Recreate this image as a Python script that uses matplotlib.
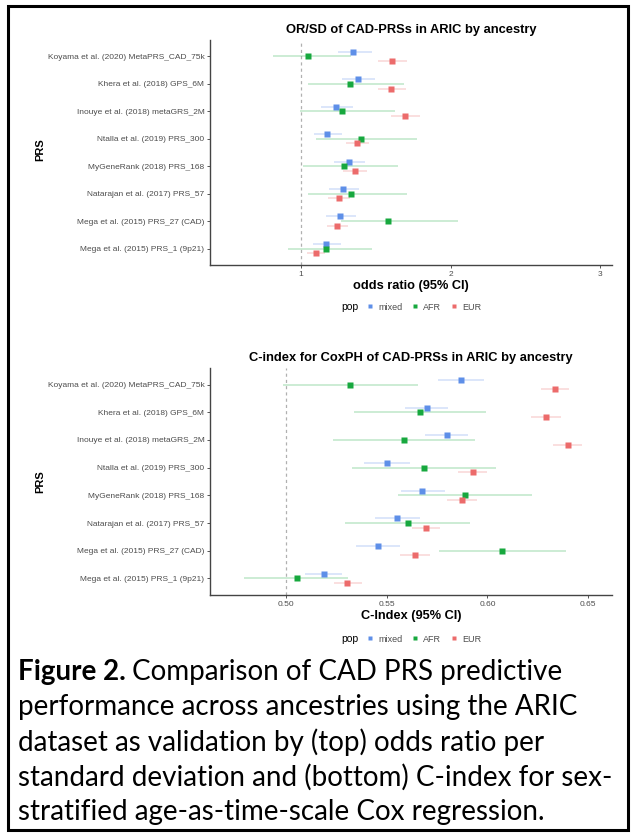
import matplotlib
matplotlib.use("Agg")
import matplotlib.pyplot as plt
from matplotlib.lines import Line2D
from matplotlib.patches import Rectangle

# ---------------- data ----------------
prs_labels = [
    "Koyama et al. (2020) MetaPRS_CAD_75k",
    "Khera et al. (2018) GPS_6M",
    "Inouye et al. (2018) metaGRS_2M",
    "Ntalla et al. (2019) PRS_300",
    "MyGeneRank (2018) PRS_168",
    "Natarajan et al. (2017) PRS_57",
    "Mega et al. (2015) PRS_27 (CAD)",
    "Mega et al. (2015) PRS_1 (9p21)",
]
pops = ["mixed", "AFR", "EUR"]

# odds ratio per SD (point, lower, upper), ordered as prs_labels
or_mixed = [1.349, 1.381, 1.236, 1.176, 1.320, 1.282, 1.261, 1.169]
or_mixed_lo = [1.248, 1.275, 1.135, 1.083, 1.218, 1.185, 1.167, 1.079]
or_mixed_hi = [1.471, 1.495, 1.347, 1.270, 1.428, 1.387, 1.369, 1.266]
or_afr = [1.045, 1.327, 1.270, 1.401, 1.286, 1.333, 1.583, 1.169]
or_afr_lo = [0.813, 1.045, 0.993, 1.101, 1.009, 1.045, 1.264, 0.914]
or_afr_hi = [1.331, 1.691, 1.631, 1.775, 1.651, 1.709, 2.050, 1.471]
or_eur = [1.610, 1.601, 1.694, 1.376, 1.358, 1.252, 1.239, 1.097]
or_eur_lo = [1.516, 1.511, 1.601, 1.297, 1.282, 1.180, 1.171, 1.038]
or_eur_hi = [1.709, 1.703, 1.797, 1.455, 1.439, 1.324, 1.315, 1.158]

# C-index (point, lower, upper)
ci_mixed = [0.5871, 0.5699, 0.5797, 0.5500, 0.5676, 0.5552, 0.5458, 0.5185]
ci_mixed_lo = [0.5753, 0.5590, 0.5691, 0.5386, 0.5569, 0.5440, 0.5348, 0.5094]
ci_mixed_hi = [0.5985, 0.5806, 0.5904, 0.5614, 0.5789, 0.5663, 0.5565, 0.5279]
ci_afr = [0.5317, 0.5667, 0.5587, 0.5683, 0.5891, 0.5603, 0.6074, 0.5054]
ci_afr_lo = [0.4982, 0.5337, 0.5230, 0.5325, 0.5557, 0.5291, 0.5758, 0.4789]
ci_afr_hi = [0.5655, 0.5995, 0.5940, 0.6042, 0.6224, 0.5912, 0.6391, 0.5309]
ci_eur = [0.6337, 0.6292, 0.6399, 0.5928, 0.5873, 0.5694, 0.5641, 0.5304]
ci_eur_lo = [0.6265, 0.6219, 0.6328, 0.5853, 0.5799, 0.5626, 0.5565, 0.5239]
ci_eur_hi = [0.6407, 0.6366, 0.6472, 0.5998, 0.5948, 0.5766, 0.5716, 0.5374]

or_ticks = [1, 2, 3]
ci_ticks = [0.50, 0.55, 0.60, 0.65]
ci_ticklabels = ["0.50", "0.55", "0.60", "0.65"]

# ---------------- style ----------------
colors = {"mixed": "#5E8FE8", "AFR": "#17A83E", "EUR": "#EC6B6B"}
offsets = {"mixed": 0.17, "AFR": 0.0, "EUR": -0.17}
TXT = "#4D4D4D"
FONT = "Liberation Sans"

W, H = 635, 836
fig = plt.figure(figsize=(W / 100, H / 100), dpi=100)
fig.patch.set_facecolor("white")


def px_axes(left, top, right, bottom):
    return fig.add_axes([left / W, 1 - bottom / H, (right - left) / W, (bottom - top) / H])


def draw_panel(ax, data, xlim, ref, ticks, ticklabels, title, xlabel):
    n = len(prs_labels)
    ypos = [n - 1 - i for i in range(n)]
    ax.axvline(ref, color="#B0B0B0", lw=0.9, ls=(0, (2.5, 2.5)), zorder=1)
    for p in pops:
        pt, lo, hi = data[p]
        ys = [y + offsets[p] for y in ypos]
        ax.hlines(ys, lo, hi, color=colors[p], lw=1.1, alpha=0.28, zorder=2)
        ax.plot(pt, ys, ls="none", marker="s", ms=4.6, color=colors[p], mec="none", zorder=3)
    ax.set_xlim(*xlim)
    ax.set_ylim(-0.6, n - 0.4)
    ax.set_yticks(ypos)
    ax.set_yticklabels(prs_labels, fontsize=6, color=TXT, family=FONT)
    ax.set_xticks(ticks)
    ax.set_xticklabels(ticklabels, fontsize=6, color=TXT, family=FONT)
    ax.tick_params(axis="both", length=2.5, width=0.7, color="#555555", pad=1.5)
    for s in ["top", "right"]:
        ax.spines[s].set_visible(False)
    for s in ["left", "bottom"]:
        ax.spines[s].set_color("#444444")
        ax.spines[s].set_linewidth(1.0)
    ax.set_title(title, fontsize=9.3, fontweight="bold", family=FONT, pad=5)
    ax.set_xlabel(xlabel, fontsize=9.2, fontweight="bold", family=FONT, labelpad=2)


ax1 = px_axes(210, 40, 612, 265)
draw_panel(
    ax1,
    {"mixed": (or_mixed, or_mixed_lo, or_mixed_hi),
     "AFR": (or_afr, or_afr_lo, or_afr_hi),
     "EUR": (or_eur, or_eur_lo, or_eur_hi)},
    (0.39, 3.08), 1, or_ticks, [str(t) for t in or_ticks],
    "OR/SD of CAD-PRSs in ARIC by ancestry", "odds ratio (95% CI)")

ax2 = px_axes(210, 368, 612, 595)
draw_panel(
    ax2,
    {"mixed": (ci_mixed, ci_mixed_lo, ci_mixed_hi),
     "AFR": (ci_afr, ci_afr_lo, ci_afr_hi),
     "EUR": (ci_eur, ci_eur_lo, ci_eur_hi)},
    (0.462, 0.662), 0.5, ci_ticks, ci_ticklabels,
    "C-index for CoxPH of CAD-PRSs in ARIC by ancestry", "C-Index (95% CI)")

# y axis titles
for yc in (150, 482):
    fig.text(40 / W, 1 - yc / H, "PRS", fontsize=8, fontweight="bold", family=FONT,
             rotation=90, ha="center", va="center")

# legends
handles = [Line2D([], [], ls="none", marker="s", ms=3.3, color=colors[p], mec="none") for p in pops]
for ly in (307, 639):
    leg = fig.legend(handles, pops, loc="center", bbox_to_anchor=(424 / W, 1 - ly / H),
                     ncol=3, frameon=False, handlelength=0.8, handletextpad=0.5,
                     columnspacing=1.0, prop={"family": FONT, "size": 6.5})
    for t in leg.get_texts():
        t.set_color(TXT)
    fig.text(350 / W, 1 - ly / H, "pop", fontsize=7.5, family=FONT, ha="center", va="center")

# outer border
fig.patches.append(Rectangle((8 / W, 6 / H), (628 - 8) / W, (830 - 6) / H,
                             transform=fig.transFigure, fill=False, ec="black", lw=2.2))

# caption
cap_font = "Lato"
cap_size = 20.0
x0 = 18 / W
lines = [
    "performance across ancestries using the ARIC",
    "dataset as validation by (top) odds ratio per",
    "standard deviation and (bottom) C-index for sex-",
    "stratified age-as-time-scale Cox regression.",
]
y_first = 672
spacing = 35
t_bold = fig.text(x0, 1 - y_first / H, "Figure 2.", fontsize=cap_size, fontweight="bold",
                  family=cap_font, va="center", ha="left")
fig.canvas.draw()
bb = t_bold.get_window_extent(renderer=fig.canvas.get_renderer())
fig.text(bb.x1 / W + 6 / W, 1 - y_first / H, "Comparison of CAD PRS predictive",
         fontsize=cap_size, family=cap_font, va="center", ha="left")
for i, ln in enumerate(lines):
    fig.text(x0, 1 - (y_first + spacing * (i + 1)) / H, ln, fontsize=cap_size,
             family=cap_font, va="center", ha="left")

fig.savefig("out.png", dpi=100)
